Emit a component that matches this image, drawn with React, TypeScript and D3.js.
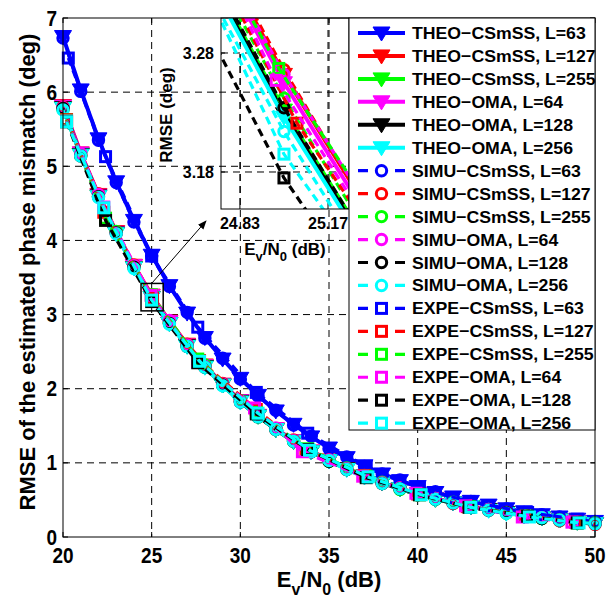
import React from 'react';
import * as d3 from 'd3';

// ---------- data ----------
const theoX = [20,21,22,23,24,25,26,27,28,29,30,31,32,33,34,35,36,37,38,39,40,41,42,43,44,45,46,47,48,49,50];

const theoCSmSS63 = [6.75,6.03,5.37,4.79,4.27,3.80,3.39,3.02,2.69,2.40,2.14,1.91,1.70,1.52,1.35,1.20,1.07,0.96,0.85,0.76,0.68,0.60,0.54,0.48,0.43,0.38,0.34,0.30,0.27,0.24,0.21];
const theoCSmSS127 = [5.82,5.18,4.62,4.12,3.665,3.262,2.912,2.60,2.32,2.06,1.84,1.64,1.46,1.30,1.16,1.04,0.92,0.82,0.73,0.65,0.58,0.52,0.46,0.41,0.37,0.33,0.29,0.26,0.23,0.21,0.18];
const theoCSmSS255 = [5.79,5.16,4.60,4.10,3.635,3.232,2.885,2.58,2.30,2.05,1.83,1.63,1.45,1.29,1.15,1.03,0.92,0.82,0.73,0.65,0.58,0.51,0.46,0.41,0.37,0.33,0.29,0.26,0.23,0.20,0.18];
const theoOMA64 = [5.81,5.18,4.61,4.11,3.66,3.255,2.905,2.59,2.31,2.06,1.84,1.64,1.46,1.30,1.16,1.03,0.92,0.82,0.73,0.65,0.58,0.52,0.46,0.41,0.37,0.33,0.29,0.26,0.23,0.21,0.18];
const theoOMA128 = [5.79,5.16,4.60,4.10,3.63,3.229,2.88,2.58,2.30,2.05,1.83,1.63,1.45,1.29,1.15,1.03,0.92,0.82,0.73,0.65,0.58,0.51,0.46,0.41,0.37,0.33,0.29,0.26,0.23,0.20,0.18];
const theoOMA256 = [5.78,5.15,4.59,4.09,3.628,3.226,2.878,2.57,2.29,2.05,1.82,1.63,1.45,1.29,1.15,1.03,0.91,0.81,0.73,0.65,0.58,0.51,0.46,0.41,0.36,0.32,0.29,0.26,0.23,0.20,0.18];

const simuCSmSS63 = [6.73,6.01,5.35,4.78,4.25,3.79,3.38,3.03,2.68,2.41,2.13,1.90,1.71,1.51,1.36,1.19,1.08,0.95,0.85,0.77,0.67,0.61,0.53,0.48,0.42,0.38,0.33,0.30,0.27,0.23,0.21];
const simuCSmSS127 = [5.80,5.16,4.63,4.11,3.67,3.266,2.90,2.60,2.31,2.07,1.83,1.64,1.45,1.31,1.15,1.04,0.91,0.83,0.72,0.66,0.57,0.52,0.45,0.42,0.36,0.33,0.28,0.26,0.22,0.21,0.17];
const simuCSmSS255 = [5.77,5.15,4.60,4.12,3.64,3.242,2.89,2.58,2.32,2.05,1.84,1.62,1.46,1.29,1.16,1.02,0.93,0.81,0.74,0.64,0.58,0.51,0.47,0.40,0.37,0.32,0.30,0.25,0.23,0.20,0.19];
const simuOMA64 = [5.79,5.17,4.62,4.10,3.66,3.262,2.92,2.59,2.30,2.06,1.83,1.64,1.47,1.30,1.15,1.04,0.92,0.82,0.73,0.66,0.58,0.52,0.46,0.41,0.37,0.33,0.29,0.26,0.23,0.21,0.18];
const simuOMA128 = [5.78,5.14,4.59,4.10,3.64,3.234,2.88,2.57,2.29,2.05,1.82,1.62,1.45,1.29,1.15,1.02,0.91,0.82,0.72,0.65,0.57,0.51,0.46,0.40,0.36,0.33,0.29,0.25,0.23,0.20,0.18];
const simuOMA256 = [5.76,5.14,4.58,4.09,3.62,3.214,2.87,2.57,2.29,2.04,1.82,1.62,1.45,1.29,1.15,1.03,0.91,0.81,0.72,0.65,0.57,0.51,0.46,0.41,0.36,0.32,0.29,0.26,0.23,0.20,0.18];

const expeX63 = [20.3,22.4,25.0,27.6,30.9,33.8,37.1,40.1,42.9,46.2,49.0];
const expeCSmSS63 = [6.46,5.13,3.79,2.83,1.95,1.40,0.95,0.66,0.48,0.33,0.24];
const expeX127 = [20.2,22.3,25.05,27.7,30.9,33.7,37.0,40.0,42.8,46.1,48.9];
const expeCSmSS127 = [5.63,4.38,3.221,2.38,1.72,1.17,0.83,0.58,0.41,0.28,0.20];
const expeX255 = [20.2,22.4,24.98,27.6,30.9,33.8,37.1,40.1,42.9,46.2,49.0];
const expeCSmSS255 = [5.62,4.30,3.267,2.40,1.68,1.19,0.82,0.57,0.41,0.28,0.19];
const expeX64 = [20.2,22.3,24.97,27.6,30.8,33.5,36.9,39.9,42.7,45.9,48.7];
const expeOMA64 = [5.61,4.45,3.257,2.36,1.74,1.15,0.82,0.59,0.42,0.27,0.20];
const expeX128 = [20.2,22.4,25.0,27.6,30.9,33.8,37.1,40.1,42.9,46.2,49.0];
const expeOMA128 = [5.60,4.27,3.175,2.35,1.66,1.18,0.80,0.57,0.40,0.28,0.19];
const expeX256 = [20.2,22.3,25.0,27.7,31.0,33.9,37.2,40.2,43.0,46.3,49.1];
const expeOMA256 = [5.60,4.44,3.195,2.37,1.67,1.17,0.81,0.57,0.40,0.27,0.19];

const xTicks = [20,25,30,35,40,45,50];
const yTicks = [0,1,2,3,4,5,6,7];
const insetXTicks = [24.83,25.17];
const insetYTicks = [3.18,3.28];
const zoomBox = [24.4, 25.65, 3.05, 3.42];

type Kind = 'theo' | 'simu' | 'expe';
interface S { name: string; color: string; kind: Kind; xs: number[]; ys: number[]; }

const BLUE = '#0000ff', RED = '#ff0000', GREEN = '#00ff00', MAG = '#ff00ff', BLK = '#000000', CYAN = '#00ffff';

const series: S[] = [
  { name: 'THEO−CSmSS, L=63', color: BLUE, kind: 'theo', xs: theoX, ys: theoCSmSS63 },
  { name: 'THEO−CSmSS, L=127', color: RED, kind: 'theo', xs: theoX, ys: theoCSmSS127 },
  { name: 'THEO−CSmSS, L=255', color: GREEN, kind: 'theo', xs: theoX, ys: theoCSmSS255 },
  { name: 'THEO−OMA, L=64', color: MAG, kind: 'theo', xs: theoX, ys: theoOMA64 },
  { name: 'THEO−OMA, L=128', color: BLK, kind: 'theo', xs: theoX, ys: theoOMA128 },
  { name: 'THEO−OMA, L=256', color: CYAN, kind: 'theo', xs: theoX, ys: theoOMA256 },
  { name: 'SIMU−CSmSS, L=63', color: BLUE, kind: 'simu', xs: theoX, ys: simuCSmSS63 },
  { name: 'SIMU−CSmSS, L=127', color: RED, kind: 'simu', xs: theoX, ys: simuCSmSS127 },
  { name: 'SIMU−CSmSS, L=255', color: GREEN, kind: 'simu', xs: theoX, ys: simuCSmSS255 },
  { name: 'SIMU−OMA, L=64', color: MAG, kind: 'simu', xs: theoX, ys: simuOMA64 },
  { name: 'SIMU−OMA, L=128', color: BLK, kind: 'simu', xs: theoX, ys: simuOMA128 },
  { name: 'SIMU−OMA, L=256', color: CYAN, kind: 'simu', xs: theoX, ys: simuOMA256 },
  { name: 'EXPE−CSmSS, L=63', color: BLUE, kind: 'expe', xs: expeX63, ys: expeCSmSS63 },
  { name: 'EXPE−CSmSS, L=127', color: RED, kind: 'expe', xs: expeX127, ys: expeCSmSS127 },
  { name: 'EXPE−CSmSS, L=255', color: GREEN, kind: 'expe', xs: expeX255, ys: expeCSmSS255 },
  { name: 'EXPE−OMA, L=64', color: MAG, kind: 'expe', xs: expeX64, ys: expeOMA64 },
  { name: 'EXPE−OMA, L=128', color: BLK, kind: 'expe', xs: expeX128, ys: expeOMA128 },
  { name: 'EXPE−OMA, L=256', color: CYAN, kind: 'expe', xs: expeX256, ys: expeOMA256 },
];

// ---------- layout ----------
const W = 611, H = 600;
const PL = 63, PR = 595, PT = 18, PB = 537;
const IL = 221, IR = 349, IT = 18, IB = 209;
const FONT = '"Liberation Sans", Arial, sans-serif';

const x = d3.scaleLinear().domain([20, 50]).range([PL, PR]);
const y = d3.scaleLinear().domain([0, 7]).range([PB, PT]);
const ix = d3.scaleLinear().domain([24.757, 25.251]).range([IL, IR]);
const iy = d3.scaleLinear().domain([3.1489, 3.3094]).range([IB, IT]);

function Marker({ kind, color, cx, cy }: { kind: Kind; color: string; cx: number; cy: number }) {
  if (kind === 'theo') {
    return <path d={`M${cx - 8.5},${cy - 6}L${cx + 8.5},${cy - 6}L${cx},${cy + 8}Z`} fill={color} stroke={color} strokeWidth={1} />;
  }
  if (kind === 'simu') {
    return <circle cx={cx} cy={cy} r={5.2} fill="none" stroke={color} strokeWidth={3} />;
  }
  return <rect x={cx - 5} y={cy - 5} width={10} height={10} fill="none" stroke={color} strokeWidth={3} />;
}

function lineStyle(kind: Kind) {
  return kind === 'theo' ? { strokeWidth: 4, dash: undefined } : { strokeWidth: 3.2, dash: '8,5' };
}

function SeriesLayer({ sx, sy, clip, clipMarkers }: { sx: d3.ScaleLinear<number, number>; sy: d3.ScaleLinear<number, number>; clip: string; clipMarkers: boolean }) {
  return (
    <g>
      {series.map((s, i) => {
        const pts: [number, number][] = s.xs.map((v, k) => [v, s.ys[k]]);
        const gen = d3.line<[number, number]>().x(d => sx(d[0])).y(d => sy(d[1]));
        const st = lineStyle(s.kind);
        return (
          <g key={i}>
            <path d={gen(pts) || ''} fill="none" stroke={s.color} strokeWidth={st.strokeWidth} strokeDasharray={st.dash} clipPath={`url(#${clip})`} strokeLinejoin="round" />
            <g clipPath={clipMarkers ? `url(#${clip})` : undefined}>
              {pts.map((p, k) => (
                <Marker key={k} kind={s.kind} color={s.color} cx={sx(p[0])} cy={sy(p[1])} />
              ))}
            </g>
          </g>
        );
      })}
    </g>
  );
}

export default function App() {
  const rowH = 22.95;
  const row0 = 33;
  return (
    <svg width={W} height={H} viewBox={`0 0 ${W} ${H}`} style={{ position: 'absolute', left: 0, top: 0, background: '#fff' }} fontFamily={FONT} fontWeight="bold">
      <defs>
        <clipPath id="mainClip"><rect x={PL} y={PT} width={PR - PL} height={PB - PT} /></clipPath>
        <clipPath id="insetClip"><rect x={IL} y={IT} width={IR - IL} height={IB - IT} /></clipPath>
        <marker id="arrowHead" viewBox="0 0 10 10" refX="9" refY="5" markerWidth="9" markerHeight="9" orient="auto">
          <path d="M0,1L10,5L0,9Z" fill="#000" />
        </marker>
      </defs>
      <rect x={0} y={0} width={W} height={H} fill="#fff" />

      {/* main grid */}
      <g stroke="#000" strokeWidth={1} strokeDasharray="7,5">
        {xTicks.slice(1, -1).map(t => <line key={t} x1={x(t)} x2={x(t)} y1={PT} y2={PB} />)}
        {yTicks.slice(1, -1).map(t => <line key={t} x1={PL} x2={PR} y1={y(t)} y2={y(t)} />)}
      </g>

      {/* main series */}
      <SeriesLayer sx={x} sy={y} clip="mainClip" clipMarkers={false} />

      {/* main axes box & ticks */}
      <rect x={PL} y={PT} width={PR - PL} height={PB - PT} fill="none" stroke="#000" strokeWidth={1} />
      <g stroke="#000" strokeWidth={1}>
        {xTicks.map(t => <g key={t}><line x1={x(t)} x2={x(t)} y1={PB} y2={PB - 5} /><line x1={x(t)} x2={x(t)} y1={PT} y2={PT + 5} /></g>)}
        {yTicks.map(t => <g key={t}><line x1={PL} x2={PL + 5} y1={y(t)} y2={y(t)} /><line x1={PR} x2={PR - 5} y1={y(t)} y2={y(t)} /></g>)}
      </g>
      <g fontSize={19} fill="#000">
        {xTicks.map(t => <text key={t} transform={`translate(${x(t)},563) scale(1,1.15)`} textAnchor="middle">{t}</text>)}
        {yTicks.map(t => <text key={t} transform={`translate(57,${y(t) + 7.5}) scale(1,1.15)`} textAnchor="end">{t}</text>)}
      </g>
      <text x={329} y={587} textAnchor="middle" fontSize={22}>
        E<tspan fontSize={16} dy={8}>v</tspan><tspan dy={-8}>/N</tspan><tspan fontSize={16} dy={8}>0</tspan><tspan dy={-8}> (dB)</tspan>
      </text>
      <text transform={`translate(35,272) rotate(-90)`} textAnchor="middle" fontSize={22}>RMSE of the estimated phase mismatch (deg)</text>

      {/* zoom box & arrow */}
      <rect x={x(zoomBox[0])} y={y(zoomBox[3])} width={x(zoomBox[1]) - x(zoomBox[0])} height={y(zoomBox[2]) - y(zoomBox[3])} fill="none" stroke="#000" strokeWidth={1.5} />
      <line x1={x(25)} y1={y(zoomBox[3])} x2={206} y2={221} stroke="#000" strokeWidth={1} markerEnd="url(#arrowHead)" />

      {/* inset */}
      <g stroke="#000" strokeWidth={1} strokeDasharray="7,5">
        {insetXTicks.map(t => <line key={t} x1={ix(t)} x2={ix(t)} y1={IT} y2={IB} />)}
        {insetYTicks.map(t => <line key={t} x1={IL} x2={IR} y1={iy(t)} y2={iy(t)} />)}
      </g>
      <SeriesLayer sx={ix} sy={iy} clip="insetClip" clipMarkers={true} />
      <rect x={IL} y={IT} width={IR - IL} height={IB - IT} fill="none" stroke="#000" strokeWidth={1} />
      <g stroke="#000" strokeWidth={1}>
        {insetXTicks.map(t => <line key={t} x1={ix(t)} x2={ix(t)} y1={IB} y2={IB - 4} />)}
        {insetYTicks.map(t => <line key={t} x1={IL} x2={IL + 4} y1={iy(t)} y2={iy(t)} />)}
      </g>
      <g fontSize={16} fill="#000">
        {insetXTicks.map(t => <text key={t} x={ix(t)} y={229} textAnchor="middle">{t.toFixed(2)}</text>)}
        {insetYTicks.map(t => <text key={t} x={214} y={iy(t) + 6} textAnchor="end">{t.toFixed(2)}</text>)}
      </g>
      <text x={285} y={255} textAnchor="middle" fontSize={17}>
        E<tspan fontSize={13} dy={6}>v</tspan><tspan dy={-6}>/N</tspan><tspan fontSize={13} dy={6}>0</tspan><tspan dy={-6}> (dB)</tspan>
      </text>
      <text transform={`translate(172,115) rotate(-90)`} textAnchor="middle" fontSize={17}>RMSE (deg)</text>

      {/* legend */}
      <rect x={349} y={18} width={246} height={412} fill="#fff" stroke="#000" strokeWidth={1} />
      {series.map((s, i) => {
        const cy = row0 + i * rowH;
        const st = lineStyle(s.kind);
        return (
          <g key={i}>
            <line x1={358} x2={405} y1={cy} y2={cy} stroke={s.color} strokeWidth={st.strokeWidth} strokeDasharray={s.kind === 'theo' ? undefined : '10,27'} />
            <Marker kind={s.kind} color={s.color} cx={381.5} cy={cy} />
            <text transform={`translate(412,${cy + 6}) scale(1.04,1)`} fontSize={17} fill="#000">{s.name}</text>
          </g>
        );
      })}
    </svg>
  );
}
